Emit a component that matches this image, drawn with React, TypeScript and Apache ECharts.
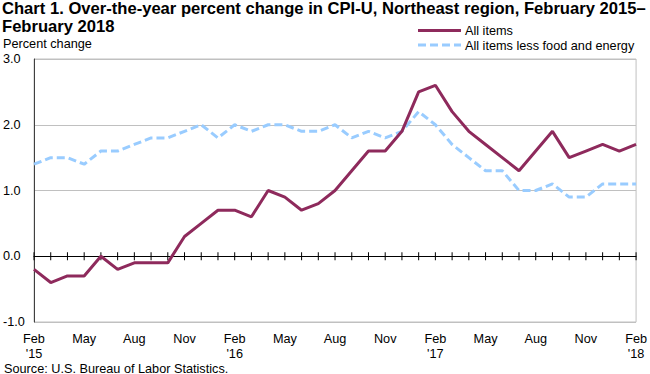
import React, { useEffect, useRef } from "react";
import * as echarts from "echarts";

const categories = [
  "Feb\n'15", "Mar", "Apr", "May", "Jun", "Jul", "Aug", "Sep", "Oct", "Nov", "Dec", "Jan",
  "Feb\n'16", "Mar", "Apr", "May", "Jun", "Jul", "Aug", "Sep", "Oct", "Nov", "Dec", "Jan",
  "Feb\n'17", "Mar", "Apr", "May", "Jun", "Jul", "Aug", "Sep", "Oct", "Nov", "Dec", "Jan",
  "Feb\n'18",
];

const allItems = [
  -0.2, -0.4, -0.3, -0.3, 0.0, -0.2, -0.1, -0.1, -0.1, 0.3, 0.5, 0.7,
  0.7, 0.6, 1.0, 0.9, 0.7, 0.8, 1.0, 1.3, 1.6, 1.6, 1.9, 2.5,
  2.6, 2.2, 1.9, 1.7, 1.5, 1.3, 1.6, 1.9, 1.5, 1.6, 1.7, 1.6,
  1.7,
];

const lessFoodEnergy = [
  1.4, 1.5, 1.5, 1.4, 1.6, 1.6, 1.7, 1.8, 1.8, 1.9, 2.0, 1.8,
  2.0, 1.9, 2.0, 2.0, 1.9, 1.9, 2.0, 1.8, 1.9, 1.8, 1.9, 2.2,
  2.0, 1.7, 1.5, 1.3, 1.3, 1.0, 1.0, 1.1, 0.9, 0.9, 1.1, 1.1,
  1.1,
];

const seriesNames = ["All items", "All items less food and energy"];
const seriesColors = ["#8e2a5c", "#99ccff"];
const FONT = "'Liberation Sans', Arial, Helvetica, sans-serif";
const SMALL = 12.7;

export default function App() {
  const ref = useRef<HTMLDivElement>(null);
  useEffect(() => {
    if (!ref.current) return;
    const chart = echarts.init(ref.current, null, { renderer: "svg" });
    const tickData = categories.map((c, i) => [i, 0]);
    chart.setOption({
      animation: false,
      backgroundColor: "#ffffff",
      textStyle: { fontFamily: FONT },
      grid: {
        left: 33,
        right: 11,
        top: 59,
        bottom: 52,
        show: true,
        borderColor: "#c0c0c0",
        borderWidth: 1,
      },
      title: {
        text:
          "Chart 1. Over-the-year percent change in CPI-U, Northeast region, February 2015–\nFebruary 2018",
        left: 2,
        top: 0,
        padding: 0,
        textStyle: {
          fontFamily: FONT,
          fontSize: 16.6,
          fontWeight: "bold",
          color: "#000",
          lineHeight: 17.5,
        },
      },
      graphic: [
        {
          type: "text",
          left: 3,
          top: 37,
          style: { text: "Percent change", font: `${SMALL}px ${FONT}`, fill: "#000" },
        },
        {
          type: "text",
          left: 4,
          top: 362,
          style: {
            text: "Source: U.S. Bureau of Labor Statistics.",
            font: `${SMALL}px ${FONT}`,
            fill: "#000",
          },
        },
        {
          type: "line",
          shape: { x1: 418, y1: 30.5, x2: 461, y2: 30.5 },
          style: { stroke: seriesColors[0], lineWidth: 3 },
        },
        {
          type: "text",
          x: 465,
          y: 31,
          style: {
            text: seriesNames[0],
            font: `${SMALL}px ${FONT}`,
            fill: "#000",
            verticalAlign: "middle",
          },
        },
        {
          type: "line",
          shape: { x1: 418, y1: 45, x2: 461, y2: 45 },
          style: { stroke: seriesColors[1], lineWidth: 3, lineDash: [8, 4] },
        },
        {
          type: "text",
          x: 465,
          y: 45.5,
          style: {
            text: seriesNames[1],
            font: `${SMALL}px ${FONT}`,
            fill: "#000",
            verticalAlign: "middle",
          },
        },
      ],
      xAxis: [
        {
          type: "category",
          data: categories,
          boundaryGap: false,
          position: "bottom",
          axisLine: { show: true, onZero: true, lineStyle: { color: "#000", width: 1 } },
          axisTick: { show: false },
          axisLabel: { show: false },
          splitLine: { show: false },
        },
        {
          type: "category",
          data: categories,
          boundaryGap: false,
          position: "bottom",
          axisLine: { show: false, onZero: false },
          axisTick: { show: false },
          axisLabel: {
            show: true,
            interval: 2,
            margin: 9,
            fontFamily: FONT,
            fontSize: SMALL,
            lineHeight: 15,
            color: "#000",
          },
          splitLine: { show: false },
        },
      ],
      yAxis: {
        type: "value",
        min: -1,
        max: 3,
        interval: 1,
        axisLine: { show: true, lineStyle: { color: "#404040" } },
        axisTick: { show: false },
        splitLine: { show: true, lineStyle: { color: "#c0c0c0", width: 1 } },
        axisLabel: {
          align: "left",
          margin: 31,
          fontFamily: FONT,
          fontSize: SMALL,
          color: "#000",
          formatter: (v: number) => v.toFixed(1),
        },
      },
      series: [
        {
          name: "zero-line ticks",
          type: "scatter",
          xAxisIndex: 0,
          yAxisIndex: 0,
          data: tickData,
          symbol: "rect",
          symbolSize: [1, 8],
          itemStyle: { color: "#000", opacity: 1 },
          silent: true,
          z: 1,
        },
        {
          name: seriesNames[0],
          type: "line",
          xAxisIndex: 0,
          yAxisIndex: 0,
          data: allItems,
          showSymbol: false,
          symbol: "none",
          lineStyle: { color: seriesColors[0], width: 3 },
          itemStyle: { color: seriesColors[0] },
          z: 3,
        },
        {
          name: seriesNames[1],
          type: "line",
          xAxisIndex: 0,
          yAxisIndex: 0,
          data: lessFoodEnergy,
          showSymbol: false,
          symbol: "none",
          lineStyle: { color: seriesColors[1], width: 3, type: [8, 4] },
          itemStyle: { color: seriesColors[1] },
          z: 2,
        },
      ],
    });
    return () => chart.dispose();
  }, []);
  return <div ref={ref} style={{ width: 650, height: 374, position: "absolute", left: 0, top: 0 }} />;
}
